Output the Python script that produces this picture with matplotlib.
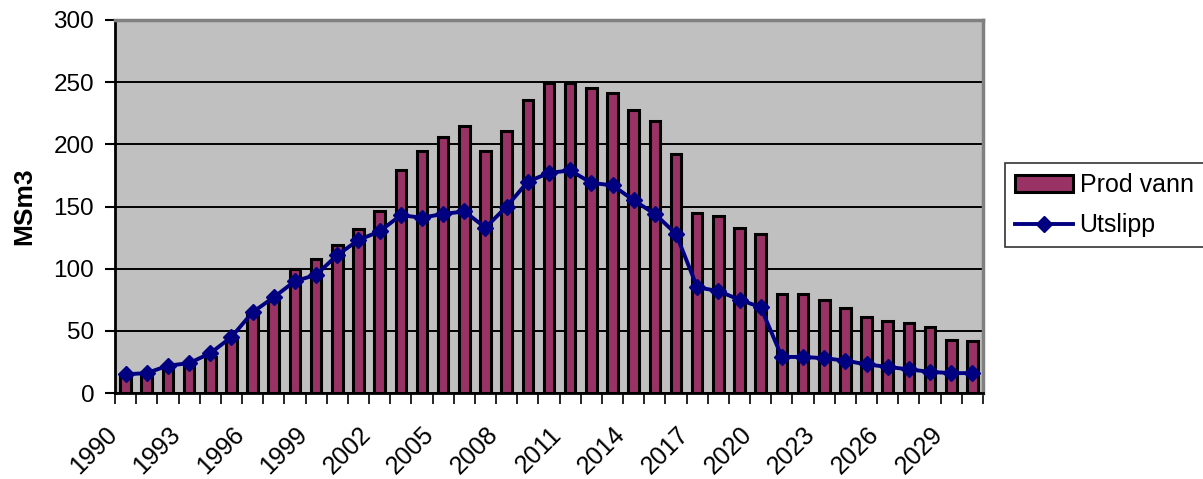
import matplotlib
matplotlib.use("Agg")
import matplotlib.pyplot as plt
import matplotlib.transforms as mtransforms
import numpy as np
from matplotlib.ticker import FixedLocator, NullFormatter

plt.rcParams['font.family'] = ['Liberation Sans', 'DejaVu Sans']

years = list(range(1990, 2031))
prod_vann = [13, 14, 21, 21, 29, 44, 64, 74, 100, 108, 119, 132, 146, 179,
             195, 206, 215, 195, 211, 236, 249, 249, 245, 241, 228, 219, 192,
             145, 142, 133, 128, 80, 80, 75, 68, 61, 58, 56, 53, 43, 42]
utslipp = [15, 16, 22, 24, 32, 45, 65, 77, 90, 95, 111, 123, 130, 143,
           141, 144, 146, 133, 150, 170, 177, 179, 169, 167, 155, 144, 128,
           85, 82, 75, 69, 29, 29, 28, 26, 23, 21, 19, 17, 16, 16]
ytick_vals = [0, 50, 100, 150, 200, 250, 300]

fig = plt.figure(figsize=(12.03, 4.79), dpi=100)
ax = fig.add_axes([115/1203, 1-393/479, (983-115)/1203, (393-20)/479])
ax.set_facecolor('#C0C0C0')

x = np.arange(len(years))
bars = ax.bar(x, prod_vann, width=0.5, color='#993366', edgecolor='black',
              linewidth=2.2, label='Prod vann', zorder=3)
line, = ax.plot(x, utslipp, color='#000080', linewidth=2.8, marker='D',
                markersize=8, markerfacecolor='#000080', markeredgecolor='#000080',
                label='Utslipp', zorder=4)

ax.set_xlim(-0.5, len(years) - 0.5)
ax.set_ylim(0, 300)
ax.set_yticks(ytick_vals)
ax.yaxis.grid(True, color='black', linewidth=1.4, zorder=1)
ax.set_axisbelow(True)

# x: labels every 3rd year at category centres, tick marks between categories
ax.set_xticks(x[::3])
ax.set_xticklabels([str(y) for y in years[::3]], rotation=45, ha='right',
                   va='top', rotation_mode='anchor', fontsize=18)
ax.tick_params(axis='x', which='major', length=0, pad=21)
offset = mtransforms.ScaledTranslation(-21/100, 0, fig.dpi_scale_trans)
for lbl in ax.get_xticklabels():
    lbl.set_transform(lbl.get_transform() + offset)
ax.xaxis.set_minor_locator(FixedLocator(np.arange(-0.5, len(years), 1.0)))
ax.xaxis.set_minor_formatter(NullFormatter())
ax.tick_params(axis='x', which='minor', length=8, width=1.2, color='black')
ax.tick_params(axis='y', length=7, width=1.5, labelsize=17.5, pad=8)

for side in ['left', 'bottom']:
    ax.spines[side].set_color('black')
    ax.spines[side].set_linewidth(2)
for side in ['top', 'right']:
    ax.spines[side].set_color('#808080')
    ax.spines[side].set_linewidth(2.5)

ax.set_ylabel('MSm3', fontsize=19, fontweight='bold', labelpad=12)

leg = fig.legend([bars, line], ['Prod vann', 'Utslipp'], loc='upper left',
                 bbox_to_anchor=(1005/1203, 1-163/479),
                 fontsize=18, frameon=True, fancybox=False, edgecolor='black',
                 handlelength=2.3, borderpad=0.4, labelspacing=0.65,
                 handletextpad=0.28, borderaxespad=0)
leg.get_frame().set_linewidth(1.2)

fig.savefig('out.png', dpi=100)
